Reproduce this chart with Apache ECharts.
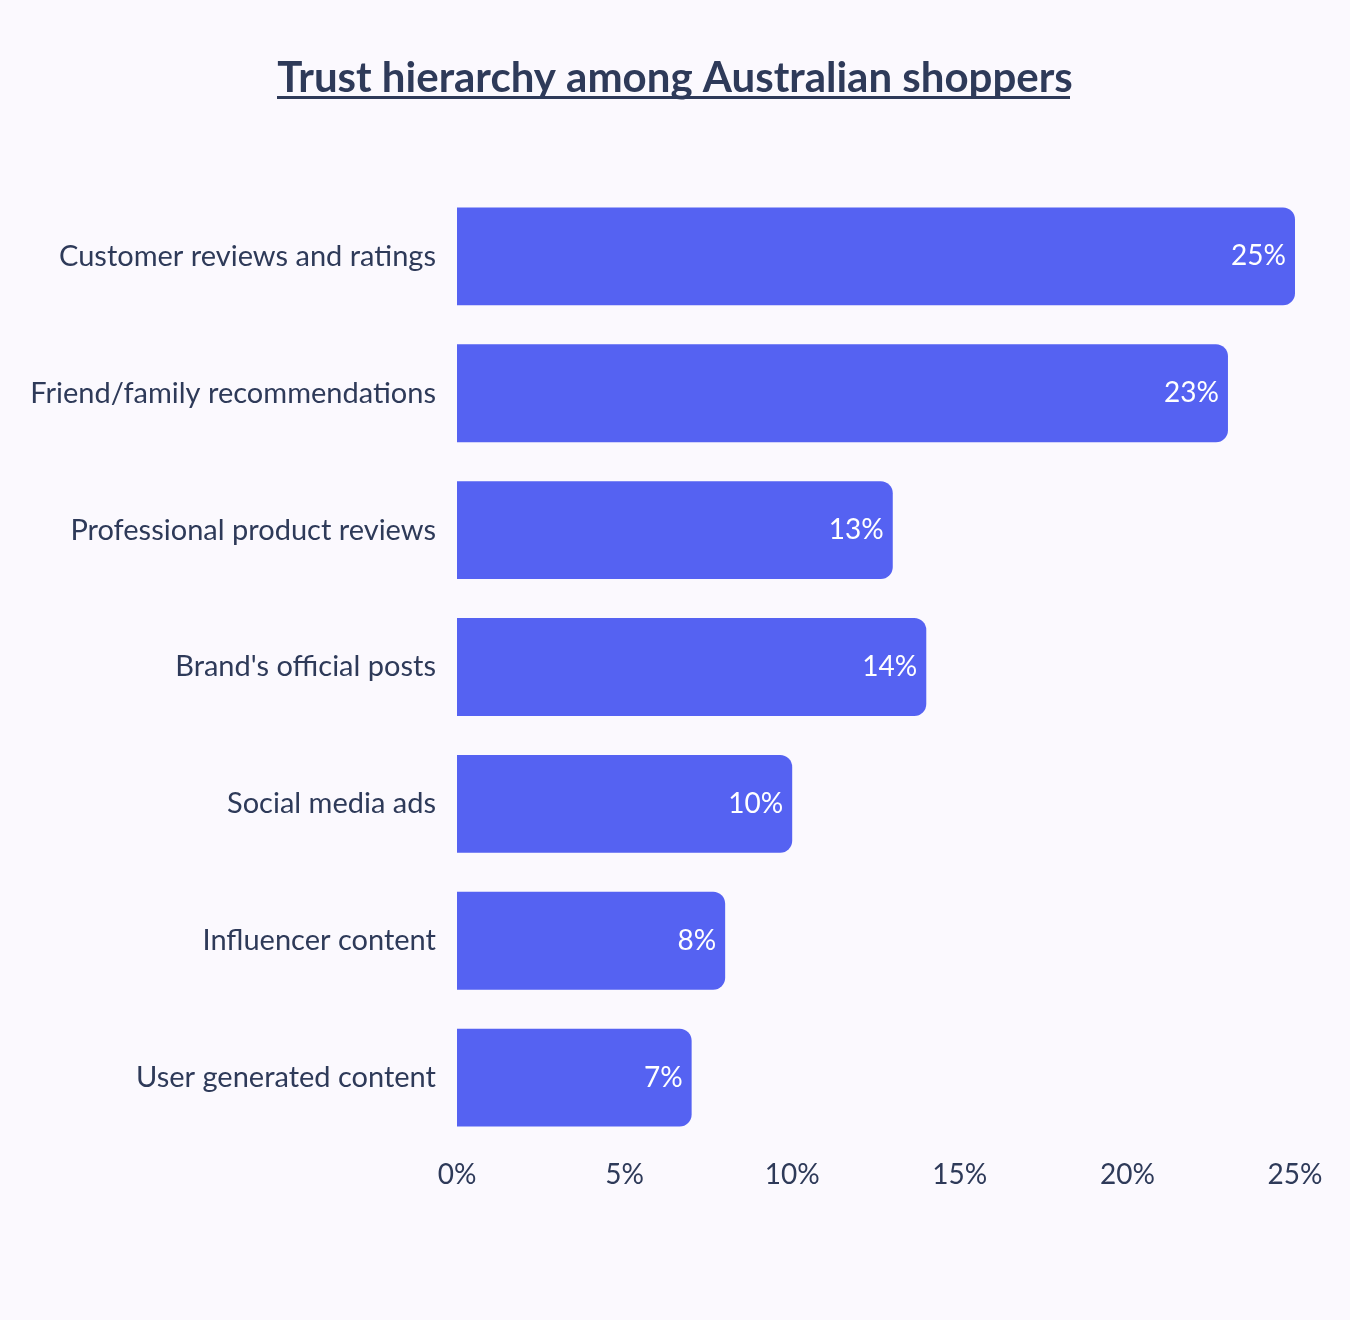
<!DOCTYPE html>
<html>
<head>
<meta charset="utf-8">
<script src="https://cdn.jsdelivr.net/npm/echarts@6/dist/echarts.min.js"></script>
<style>
  html, body { margin: 0; padding: 0; background: #fbf9fe; }
  #chart { width: 1350px; height: 1320px; }
</style>
</head>
<body>
<div id="chart"></div>
<script>
// categories, top to bottom
var categories = [
    'Customer reviews and ratings',
    'Friend/family recommendations',
    'Professional product reviews',
    "Brand's official posts",
    'Social media ads',
    'Influencer content',
    'User generated content'
];
// share of shoppers (%)
var values = [25, 23, 13, 14, 10, 8, 7];
var tickLabels = ['0%', '5%', '10%', '15%', '20%', '25%'];

var textColor = '#2e3a59';
var barColor = '#5562f2';

var myChart = echarts.init(document.getElementById('chart'));
myChart.setOption({
    backgroundColor: '#fbf9fe',
    title: {
        text: 'Trust hierarchy among Australian shoppers',
        left: 'center',
        top: 52,
        textStyle: {
            fontFamily: 'Lato',
            fontWeight: 'bold',
            fontSize: 42,
            color: textColor
        }
    },
    //标题下划线
    graphic: [{
        type: 'rect',
        shape: { x: 277, y: 96, width: 793, height: 3 },
        style: { fill: textColor }
    }],
    grid: { left: 457, right: 55, top: 188, bottom: 174 },
    xAxis: {
        type: 'value',
        min: 0,
        max: 25,
        interval: 5,
        axisLine: { show: false },
        axisTick: { show: false },
        splitLine: { show: false },
        axisLabel: {
            margin: 15,
            fontFamily: 'Lato',
            fontSize: 28,
            color: textColor,
            formatter: function (v) { return tickLabels[v / 5]; }
        }
    },
    yAxis: {
        type: 'category',
        inverse: true,
        data: categories,
        axisLine: { show: false },
        axisTick: { show: false },
        axisLabel: {
            margin: 21,
            fontFamily: 'Lato',
            fontSize: 29,
            color: textColor
        }
    },
    series: [{
        type: 'bar',
        data: values,
        barCategoryGap: '28.5%',
        itemStyle: { color: barColor, borderRadius: [0, 12, 12, 0] },
        label: {
            show: true,
            position: 'insideRight',
            distance: 9,
            fontFamily: 'Lato',
            fontSize: 28,
            color: '#ffffff',
            formatter: '{c}%'
        }
    }]
});
</script>
</body>
</html>
